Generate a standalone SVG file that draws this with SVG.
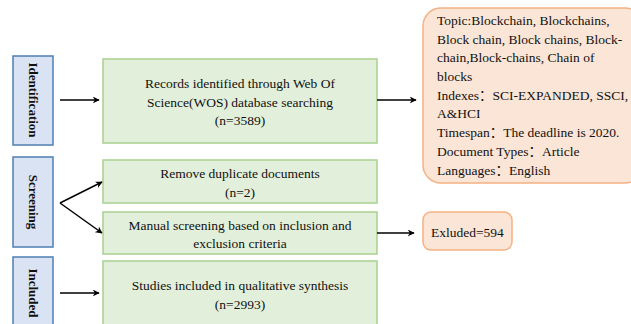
<svg xmlns="http://www.w3.org/2000/svg" width="631" height="324" viewBox="0 0 631 324">
<defs>
<marker id="ah" viewBox="0 0 10 10" refX="9" refY="5" markerWidth="7" markerHeight="7" markerUnits="userSpaceOnUse" orient="auto">
<path d="M0,0 L10,5 L0,10 L3,5 Z" fill="#000"/>
</marker>
</defs>
<style>
.stage{fill:#dae3f3;stroke:#4f7fb0;stroke-width:1.5}
.step{fill:#e2efda;stroke:#a9d18e;stroke-width:1.5}
.note{fill:#fbe5d6;stroke:#f4b183;stroke-width:1.5}
text{font-family:"Liberation Serif","Times New Roman","Noto Sans CJK SC",serif;font-size:13.5px;fill:#111}
.c{text-anchor:middle}
.v{font-weight:bold;font-size:13px;text-anchor:middle;dominant-baseline:central}
.conn line,.conn path{stroke:#000;stroke-width:1.5;fill:none;marker-end:url(#ah)}
</style>
<rect width="631" height="324" fill="#fff"/>
<g id="stage-identification">
<rect class="stage" x="13" y="56" width="40" height="89"/>
<text class="v" transform="translate(33,100) rotate(90)">Identification</text>
</g>
<g id="stage-screening">
<rect class="stage" x="13" y="157" width="40" height="90"/>
<text class="v" transform="translate(33,202) rotate(90)">Screening</text>
</g>
<g id="stage-included">
<rect class="stage" x="13" y="257" width="40" height="80"/>
<text class="v" transform="translate(33,293) rotate(90)">Included</text>
</g>
<g id="records">
<rect class="step" x="103" y="59" width="274" height="84"/>
<text class="c" x="240" y="88">Records identified through Web Of</text>
<text class="c" x="240" y="106.5">Science(WOS) database searching</text>
<text class="c" x="240" y="125">(n=3589)</text>
</g>
<g id="duplicates">
<rect class="step" x="103" y="160" width="274" height="43"/>
<text class="c" x="240" y="178">Remove duplicate documents</text>
<text class="c" x="240" y="197">(n=2)</text>
</g>
<g id="manual">
<rect class="step" x="103" y="212" width="274" height="42"/>
<text class="c" x="240" y="229.5">Manual screening based on inclusion and</text>
<text class="c" x="240" y="248">exclusion criteria</text>
</g>
<g id="included">
<rect class="step" x="103" y="261" width="274" height="76"/>
<text class="c" x="240" y="289.5">Studies included in qualitative synthesis</text>
<text class="c" x="240" y="309">(n=2993)</text>
</g>
<g id="query">
<rect class="note" x="423" y="8" width="220" height="175" rx="18"/>
<text x="437" y="25">Topic:Blockchain, Blockchains,</text>
<text x="437" y="43.5">Block chain, Block chains, Block-</text>
<text x="437" y="62">chain,Block-chains, Chain of</text>
<text x="437" y="81">blocks</text>
<text x="437" y="99.5">Indexes：SCI-EXPANDED, SSCI,</text>
<text x="437" y="118">A&amp;HCI</text>
<text x="437" y="137">Timespan：The deadline is 2020.</text>
<text x="437" y="156">Document Types：Article</text>
<text x="437" y="174.5">Languages：English</text>
</g>
<g id="excluded">
<rect class="note" x="423" y="212" width="89" height="38" rx="8"/>
<text x="431" y="237">Exluded=594</text>
</g>
<g id="connectors" class="conn">
<line x1="60" y1="100" x2="99" y2="100"/>
<line x1="377" y1="100" x2="416" y2="100"/>
<line x1="60" y1="203" x2="102" y2="182"/>
<line x1="60" y1="203" x2="102" y2="233"/>
<line x1="377" y1="233" x2="414" y2="233"/>
<line x1="60" y1="293" x2="99" y2="293"/>
</g>
</svg>
